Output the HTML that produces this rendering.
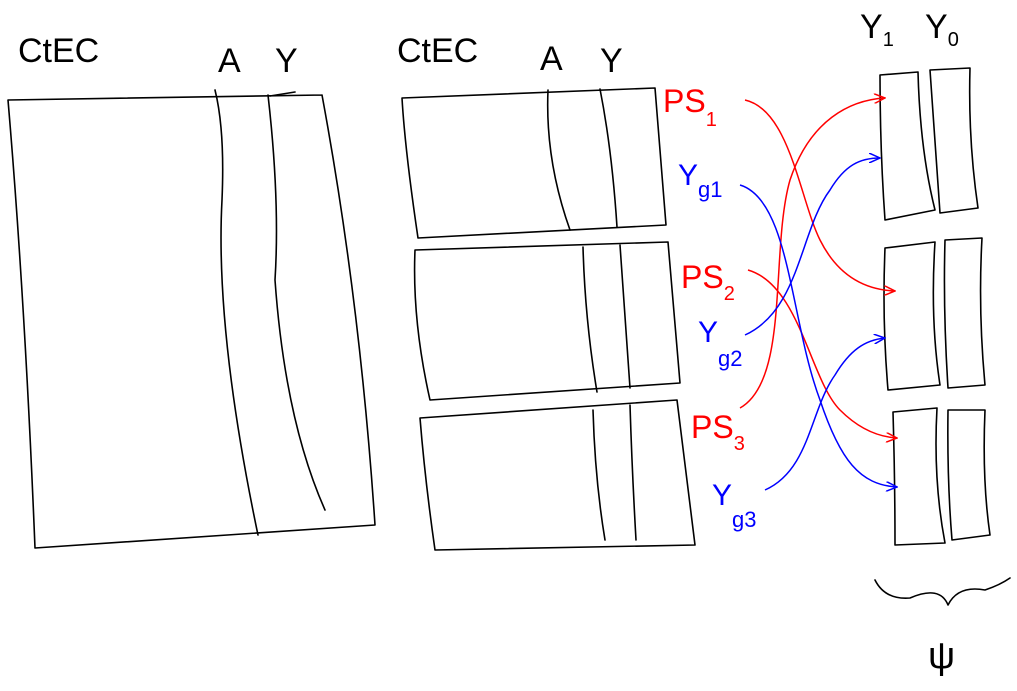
<!DOCTYPE html>
<html><head><meta charset="utf-8"><style>
html,body{margin:0;padding:0;background:#fff;}
svg{display:block;}
text{font-family:"Liberation Sans",sans-serif;font-weight:normal;}
.k{fill:none;stroke:#000;stroke-width:1.6;stroke-linecap:round;stroke-linejoin:round;}
.r{fill:none;stroke:#f00;stroke-width:1.5;}
.b{fill:none;stroke:#00f;stroke-width:1.5;}
</style></head><body>
<svg width="1017" height="691" viewBox="0 0 1017 691">
<defs>
<marker id="ar" markerWidth="12" markerHeight="10" refX="11" refY="5" orient="auto" markerUnits="userSpaceOnUse"><path d="M0,0 L11,5 L0,10" fill="none" stroke="#f00" stroke-width="1.5"/></marker>
<marker id="ab" markerWidth="12" markerHeight="10" refX="11" refY="5" orient="auto" markerUnits="userSpaceOnUse"><path d="M0,0 L11,5 L0,10" fill="none" stroke="#00f" stroke-width="1.5"/></marker>
</defs>

<g>
<path class="k" d="M8,100 L322,95 M8,100 Q25,300 35,548 L375,525 M322,95 Q360,300 375,525"/>
<path class="k" d="M215,90 Q225,130 222,200 Q215,330 258,535"/>
<path class="k" d="M268,95 Q280,200 275,280 Q285,420 325,510 M270,96 L295,92"/>
<text x="18" y="62" font-size="34">CtEC</text>
<text x="218" y="72" font-size="34">A</text>
<text x="275" y="72" font-size="34">Y</text>
</g>

<g>
<path class="k" d="M402,98 L655,88 L666,225 L418,238 Q405,150 402,98"/>
<path class="k" d="M548,90 Q545,160 570,230 M600,89 Q612,150 617,227"/>
<path class="k" d="M415,250 L668,242 L680,383 L430,400 Q412,320 415,250"/>
<path class="k" d="M583,247 Q585,320 597,392 M620,245 Q625,320 630,388"/>
<path class="k" d="M420,418 L677,400 L695,545 L435,550 Q425,480 420,418"/>
<path class="k" d="M593,410 Q595,480 605,540 M630,405 Q632,470 636,540"/>
<text x="397" y="62" font-size="34">CtEC</text>
<text x="540" y="70" font-size="34">A</text>
<text x="600" y="72" font-size="34">Y</text>
</g>

<g>
<path class="k" d="M880,75 L918,72 Q920,150 935,210 L885,220 Q880,150 880,75"/>
<path class="k" d="M930,70 L970,68 Q968,140 978,208 L940,213 Q935,140 930,70"/>
<path class="k" d="M885,248 L935,242 Q930,320 940,385 L888,390 Q882,320 885,248"/>
<path class="k" d="M945,240 L982,238 Q978,310 985,385 L948,388 Q943,310 945,240"/>
<path class="k" d="M893,412 L937,408 Q933,480 945,543 L895,545 Q895,480 893,412"/>
<path class="k" d="M948,410 L985,410 Q982,480 990,535 L952,540 Q947,480 948,410"/>
<text x="860" y="38" font-size="34">Y<tspan font-size="20" dy="8">1</tspan></text>
<text x="925" y="38" font-size="34">Y<tspan font-size="20" dy="8">0</tspan></text>
<path class="k" d="M875,580 Q885,600 910,598 Q940,585 948,605 Q958,585 985,590 Q1000,585 1010,578"/>
<text x="928" y="668" font-size="38">ψ</text>
</g>

<g>
<text x="663" y="112" font-size="32" fill="#f00">PS<tspan font-size="20" dy="14">1</tspan></text>
<text x="681" y="288" font-size="32" fill="#f00">PS<tspan font-size="20" dy="12">2</tspan></text>
<text x="691" y="438" font-size="32" fill="#f00">PS<tspan font-size="20" dy="12">3</tspan></text>
<text x="678" y="185" font-size="30" fill="#00f">Y<tspan font-size="22" dy="12">g1</tspan></text>
<text x="698" y="342" font-size="30" fill="#00f">Y<tspan font-size="22" dy="24">g2</tspan></text>
<text x="712" y="505" font-size="30" fill="#00f">Y<tspan font-size="22" dy="22">g3</tspan></text>
<path class="r" marker-end="url(#ar)" d="M745,100 C790,110 800,200 820,240 C840,280 870,290 895,291"/>
<path class="r" marker-end="url(#ar)" d="M748,270 C800,285 810,380 840,410 C860,430 880,437 897,438"/>
<path class="r" marker-end="url(#ar)" d="M740,408 C790,380 770,250 790,180 C810,120 850,100 885,98"/>
<path class="b" marker-end="url(#ab)" d="M740,185 C790,200 790,320 820,400 C840,460 860,485 897,487"/>
<path class="b" marker-end="url(#ab)" d="M745,335 C800,310 800,230 830,190 C845,165 860,158 880,158"/>
<path class="b" marker-end="url(#ab)" d="M765,490 C810,470 810,410 835,375 C850,350 865,340 885,338"/>
</g>
</svg>
</body></html>
